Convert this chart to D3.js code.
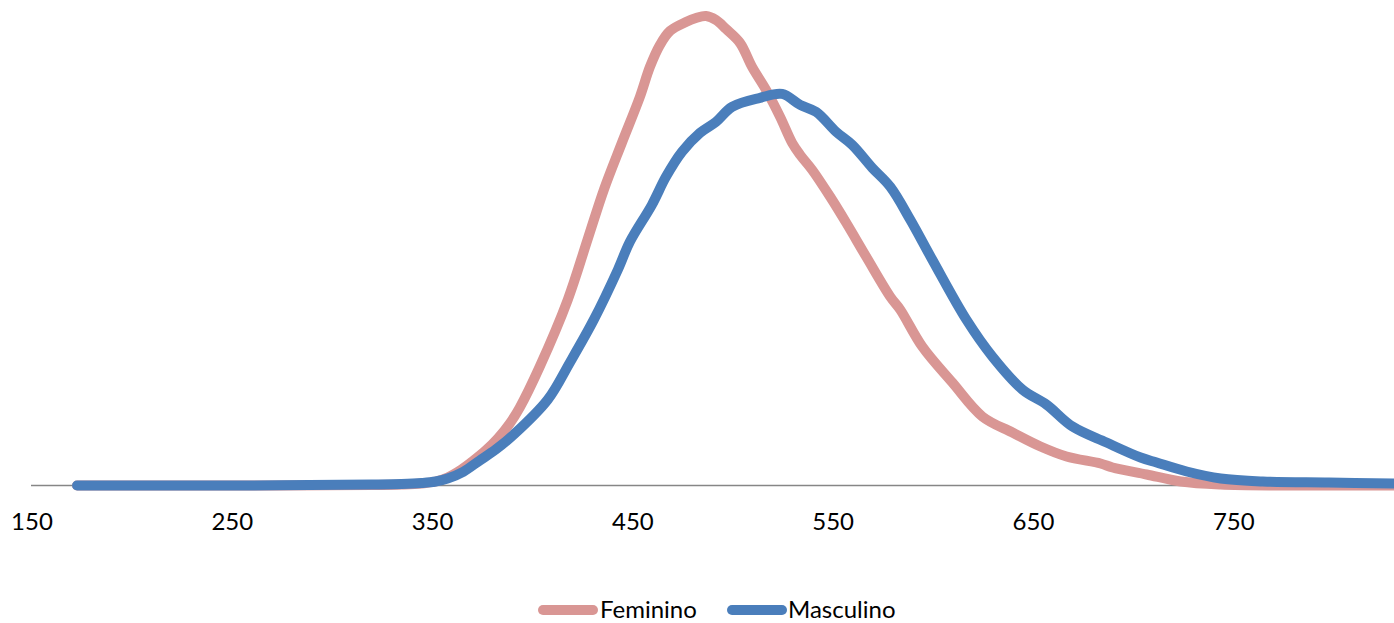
<!DOCTYPE html>
<html>
<head>
<meta charset="utf-8">
<script src="https://cdn.jsdelivr.net/npm/d3@7"></script>
<style>
  html, body { margin: 0; padding: 0; background: #fff; }
  svg { display: block; }
  text { font-family: Lato, "Open Sans", sans-serif; fill: #000; }
</style>
</head>
<body>
<svg id="chart" width="1394" height="623"></svg>
<script>
// ---- data ----
const seriesNames = ["Feminino", "Masculino"];
const seriesColors = ["#D99694", "#4A7EBB"];
const xTicks = [150, 250, 350, 450, 550, 650, 750];

const feminino = [
  [173,0],[250,0.00],[320,0.005],[335,0.01],[345,0.02],[352,0.04],[358,0.08],[365,0.16],[371,0.25],[377,0.35],[383,0.47],[389,0.62],[394,0.78],
  [404,1.19],[418,1.86],[428,2.47],[436,2.96],[445,3.43],[454,3.89],[459,4.19],[464,4.41],
  [469,4.55],[477,4.64],[482,4.68],[487,4.70],[492,4.66],[497,4.57],[504,4.43],[510,4.19],
  [517,3.96],[524,3.69],[530,3.43],[534,3.31],[540,3.16],[549,2.89],[557,2.63],[567,2.29],
  [579,1.89],[584,1.76],[595,1.39],[610,1.03],[625,0.69],[640,0.53],[654,0.39],[667,0.29],
  [684,0.22],[690,0.18],[707,0.11],[724,0.04],[744,0.01],[774,0],[830,0]
];
const masculino = [
  [173,0],[250,0.00],[320,0.01],[335,0.015],[345,0.025],[352,0.04],[358,0.07],[366,0.14],[374,0.25],[382,0.36],[391,0.51],[408,0.86],
  [419,1.23],[431,1.66],[443,2.16],[449,2.44],[460,2.81],[467,3.09],[475,3.34],[484,3.53],
  [492,3.64],[500,3.79],[514,3.88],[525,3.92],[534,3.81],[542,3.74],[552,3.54],[560,3.41],
  [570,3.18],[579,2.99],[589,2.66],[600,2.26],[617,1.66],[630,1.29],[645,0.96],[657,0.81],
  [670,0.59],[687,0.43],[704,0.28],[712,0.23],[727,0.14],[744,0.07],[765,0.04],[798,0.03],[830,0.02]
];
const seriesData = [feminino, masculino];

// ---- layout ----
const svg = d3.select("#chart");
const x = d3.scaleLinear().domain([150, 830]).range([31, 1393]);
const y = d3.scaleLinear().domain([0, 4.70]).range([485.5, 16]);

// axis line
svg.append("line")
  .attr("x1", x(150)).attr("x2", 1394)
  .attr("y1", y(0)).attr("y2", y(0))
  .attr("stroke", "#868686").attr("stroke-width", 1.5);

// tick labels
svg.append("g").selectAll("text").data(xTicks).join("text")
  .attr("x", d => x(d) + 1)
  .attr("y", 530)
  .attr("text-anchor", "middle")
  .style("font-size", "24px")
  .text(d => d);

// lines
const line = d3.line()
  .x(d => x(d[0])).y(d => y(d[1]))
  .curve(d3.curveCatmullRom.alpha(0.5));

svg.append("g").selectAll("path").data(seriesData).join("path")
  .attr("d", line)
  .attr("fill", "none")
  .attr("stroke", (d, i) => seriesColors[i])
  .attr("stroke-width", 10)
  .attr("stroke-linecap", "round")
  .attr("stroke-linejoin", "round");

// legend
const legendItems = [
  {name: seriesNames[0], color: seriesColors[0], x0: 543, tx: 600},
  {name: seriesNames[1], color: seriesColors[1], x0: 732, tx: 788}
];
const lg = svg.append("g");
legendItems.forEach(it => {
  lg.append("line")
    .attr("x1", it.x0).attr("x2", it.x0 + 50)
    .attr("y1", 610).attr("y2", 610)
    .attr("stroke", it.color).attr("stroke-width", 10)
    .attr("stroke-linecap", "round");
  lg.append("text")
    .attr("x", it.tx).attr("y", 618)
    .style("font-size", "24px")
    .text(it.name);
});
</script>
</body>
</html>
